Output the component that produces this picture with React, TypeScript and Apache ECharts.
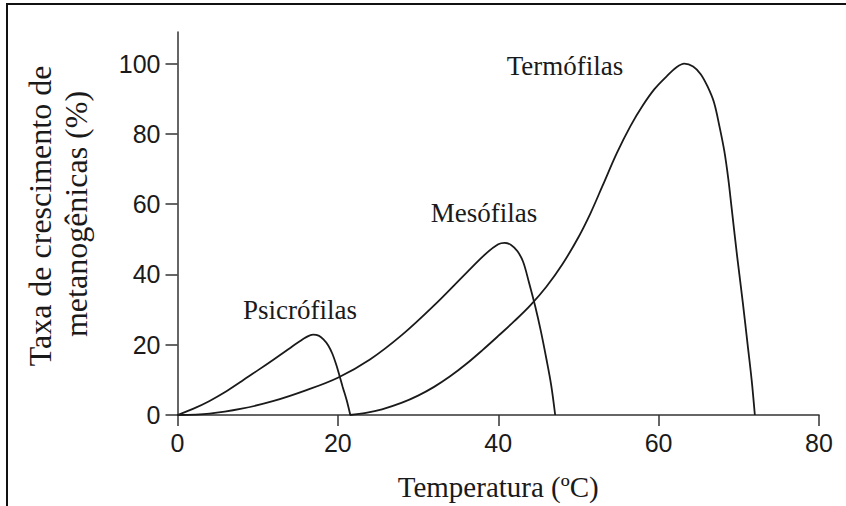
import React, { useEffect, useRef } from "react";
import * as echarts from "echarts";

// Psicrófilas
const psicroTemp = [0, 2, 4, 6, 8, 10, 12, 13.2, 14.3, 15.2, 16, 16.9, 17.6, 18.2, 18.8, 19.3, 19.8, 20.2, 20.6, 21.1, 21.55];
const psicroRate = [0, 1.8, 4, 6.6, 9.6, 12.7, 15.8, 17.7, 19.5, 20.9, 22.1, 22.9, 22.6, 21.5, 19.8, 17.5, 14.3, 11.2, 8, 4.2, 0];
// Mesófilas
const mesoTemp = [0, 4, 8, 12, 16, 20, 24, 28, 32, 36, 38.5, 40, 40.8, 41.6, 42.4, 43.1, 43.8, 44.6, 45.3, 46, 46.6, 47.1];
const mesoRate = [0, 0.4, 1.8, 4, 7, 10.6, 15.8, 22.8, 31.2, 40.4, 46, 48.6, 49, 48.4, 46.6, 43.6, 38, 31, 24, 16, 8.5, 0];
// Termófilas
const termoTemp = [21.5, 23.5, 25.5, 28, 30, 32, 34, 36, 38, 40, 42, 44, 46, 48, 50, 51.5, 53, 54.8, 56.5, 58, 59.5, 61, 62.2, 63.2, 64.3, 65.25, 66.1, 66.9, 67.6, 68.2, 68.7, 69.1, 69.8, 70.5, 71.1, 71.6, 72];
const termoRate = [0, 0.6, 1.6, 3.5, 5.5, 8, 11, 14.5, 18.4, 22.5, 26.7, 31.2, 36.5, 42.9, 50.6, 57.4, 65.2, 74.6, 82.3, 88, 92.8, 96.4, 98.9, 100, 99.2, 97, 93.5, 89, 82, 75, 67, 59, 45, 32, 20, 10, 0];

const xTicks = [0, 20, 40, 60, 80];
const yTicks = [0, 20, 40, 60, 80, 100];
const curveNames = ["Psicrófilas", "Mesófilas", "Termófilas"];
const xTitle = "Temperatura (ºC)";
const yTitleLines = ["Taxa de crescimento de", "metanogênicas (%)"];

const zip = (a: number[], b: number[]) => a.map((t, i) => [t, b[i]]);

export default function App() {
  const ref = useRef<HTMLDivElement>(null);
  useEffect(() => {
    if (!ref.current) return;
    const chart = echarts.init(ref.current, undefined, { renderer: "svg" });
    const ink = "#1a1a1a";
    const serif = "'Liberation Serif', 'DejaVu Serif', serif";
    const sans = "'Liberation Sans', Arial, sans-serif";
    const lineSeries = (name: string, data: number[][]) => ({
      type: "line",
      name,
      data,
      showSymbol: false,
      smooth: 0.35,
      lineStyle: { color: ink, width: 1.8 },
      emphasis: { disabled: true },
    });
    chart.setOption({
      animation: false,
      backgroundColor: "#ffffff",
      grid: { left: 177.5, right: 27, top: 32, bottom: 88.5 },
      xAxis: {
        type: "value",
        min: 0,
        max: 80,
        interval: 20,
        name: xTitle,
        nameLocation: "middle",
        nameGap: 57,
        nameTextStyle: { fontFamily: serif, fontSize: 29, color: ink },
        axisLine: { onZero: false, lineStyle: { color: "#333", width: 1.5 } },
        axisTick: { show: true, length: 11, lineStyle: { color: "#333", width: 1.5 }, customValues: xTicks },
        axisLabel: { fontFamily: sans, fontSize: 25, color: ink, margin: 15, customValues: xTicks },
        splitLine: { show: false },
      },
      yAxis: {
        type: "value",
        min: 0,
        max: 109,
        axisLine: { show: true, onZero: false, lineStyle: { color: "#333", width: 1.5 } },
        axisTick: { show: true, length: 12, lineStyle: { color: "#333", width: 1.5 }, customValues: yTicks },
        axisLabel: { fontFamily: sans, fontSize: 25, color: ink, margin: 17, customValues: yTicks },
        splitLine: { show: false },
      },
      series: [
        lineSeries(curveNames[0], zip(psicroTemp, psicroRate)),
        lineSeries(curveNames[1], zip(mesoTemp, mesoRate)),
        lineSeries(curveNames[2], zip(termoTemp, termoRate)),
      ],
      graphic: [
        {
          type: "rect",
          shape: { x: 7, y: 4, width: 1000, height: 700 },
          style: { fill: "none", stroke: "#111", lineWidth: 2 },
          silent: true,
        },
        {
          type: "text",
          x: 40,
          y: 216,
          rotation: Math.PI / 2,
          style: { text: yTitleLines[0], fontFamily: serif, fontSize: 32, fill: ink, align: "center", verticalAlign: "middle" },
        },
        {
          type: "text",
          x: 76,
          y: 214,
          rotation: Math.PI / 2,
          style: { text: yTitleLines[1], fontFamily: serif, fontSize: 32, fill: ink, align: "center", verticalAlign: "middle" },
        },
        {
          type: "text",
          x: 300,
          y: 310,
          style: { text: curveNames[0], fontFamily: serif, fontSize: 27, fill: ink, align: "center", verticalAlign: "middle" },
        },
        {
          type: "text",
          x: 484,
          y: 213,
          style: { text: curveNames[1], fontFamily: serif, fontSize: 27, fill: ink, align: "center", verticalAlign: "middle" },
        },
        {
          type: "text",
          x: 565,
          y: 66,
          style: { text: curveNames[2], fontFamily: serif, fontSize: 27, fill: ink, align: "center", verticalAlign: "middle" },
        },
      ],
    });
    return () => chart.dispose();
  }, []);
  return (
    <div
      ref={ref}
      style={{ position: "absolute", left: 0, top: 0, width: 846, height: 506, background: "#fff" }}
    />
  );
}
